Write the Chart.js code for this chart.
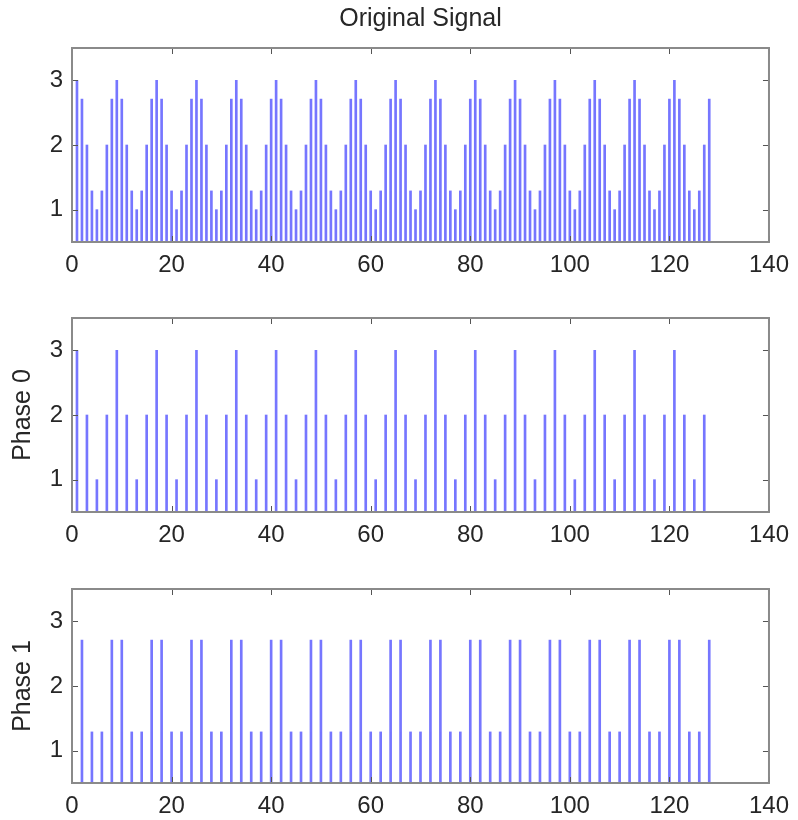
<!DOCTYPE html>
<html>
<head>
<meta charset="utf-8">
<script src="https://cdn.jsdelivr.net/npm/chart.js@4/dist/chart.umd.min.js"></script>
<style>
    body { margin: 0; background: #fff; }
    #wrap { position: relative; width: 798px; height: 820px; }
    #wrap canvas { position: absolute; left: 0; }
</style>
</head>
<body>
<div id="wrap">
    <canvas id="c0" width="798" height="290" style="top:0px"></canvas>
    <canvas id="c1" width="798" height="270" style="top:290px"></canvas>
    <canvas id="c2" width="798" height="260" style="top:560px"></canvas>
</div>
<script>
// Values (samples 1..128, stem plots)
const originalSignal = [
    3, 2.71, 2, 1.29, 1, 1.29, 2, 2.71,   3, 2.71, 2, 1.29, 1, 1.29, 2, 2.71,
    3, 2.71, 2, 1.29, 1, 1.29, 2, 2.71,   3, 2.71, 2, 1.29, 1, 1.29, 2, 2.71,
    3, 2.71, 2, 1.29, 1, 1.29, 2, 2.71,   3, 2.71, 2, 1.29, 1, 1.29, 2, 2.71,
    3, 2.71, 2, 1.29, 1, 1.29, 2, 2.71,   3, 2.71, 2, 1.29, 1, 1.29, 2, 2.71,
    3, 2.71, 2, 1.29, 1, 1.29, 2, 2.71,   3, 2.71, 2, 1.29, 1, 1.29, 2, 2.71,
    3, 2.71, 2, 1.29, 1, 1.29, 2, 2.71,   3, 2.71, 2, 1.29, 1, 1.29, 2, 2.71,
    3, 2.71, 2, 1.29, 1, 1.29, 2, 2.71,   3, 2.71, 2, 1.29, 1, 1.29, 2, 2.71,
    3, 2.71, 2, 1.29, 1, 1.29, 2, 2.71,   3, 2.71, 2, 1.29, 1, 1.29, 2, 2.71
];

// Phase 0 sits on the odd samples 1, 3, ..., 127
const phase0 = [
    3, 2, 1, 2,  3, 2, 1, 2,  3, 2, 1, 2,  3, 2, 1, 2,
    3, 2, 1, 2,  3, 2, 1, 2,  3, 2, 1, 2,  3, 2, 1, 2,
    3, 2, 1, 2,  3, 2, 1, 2,  3, 2, 1, 2,  3, 2, 1, 2,
    3, 2, 1, 2,  3, 2, 1, 2,  3, 2, 1, 2,  3, 2, 1, 2
];

// Phase 1 sits on the even samples 2, 4, ..., 128
const phase1 = [
    2.71, 1.29, 1.29, 2.71,  2.71, 1.29, 1.29, 2.71,  2.71, 1.29, 1.29, 2.71,  2.71, 1.29, 1.29, 2.71,
    2.71, 1.29, 1.29, 2.71,  2.71, 1.29, 1.29, 2.71,  2.71, 1.29, 1.29, 2.71,  2.71, 1.29, 1.29, 2.71,
    2.71, 1.29, 1.29, 2.71,  2.71, 1.29, 1.29, 2.71,  2.71, 1.29, 1.29, 2.71,  2.71, 1.29, 1.29, 2.71,
    2.71, 1.29, 1.29, 2.71,  2.71, 1.29, 1.29, 2.71,  2.71, 1.29, 1.29, 2.71,  2.71, 1.29, 1.29, 2.71
];

const xTicks = [0, 20, 40, 60, 80, 100, 120, 140];
const yTicks = [1, 2, 3];
const xRange = [0, 140];
const yRange = [0.5, 3.5];

const FONT = '"Liberation Sans", Arial, Helvetica, sans-serif';
const TEXT_COLOR = '#262626';
const STEM_COLOR = '#7676ff';
const FRAME_COLOR = '#8a8a8a';

// sample number -> point
function toPoints(values, first, step) {
    return values.map((v, i) => ({ x: first + i * step, y: v }));
}

// Box round the plot with MATLAB style inward ticks on all four sides
const boxPlugin = {
    id: 'matlabBox',
    afterDraw(chart) {
        const { ctx, chartArea: a, scales } = chart;
        ctx.save();
        ctx.strokeStyle = '#555';
        ctx.lineWidth = 1;
        ctx.beginPath();
        xTicks.forEach(t => {
            const px = Math.round(scales.x.getPixelForValue(t)) + 0.5;
            ctx.moveTo(px, a.bottom); ctx.lineTo(px, a.bottom - 6);
            ctx.moveTo(px, a.top); ctx.lineTo(px, a.top + 6);
        });
        yTicks.forEach(t => {
            const py = Math.round(scales.y.getPixelForValue(t)) + 0.5;
            ctx.moveTo(a.left, py); ctx.lineTo(a.left + 6, py);
            ctx.moveTo(a.right, py); ctx.lineTo(a.right - 6, py);
        });
        ctx.stroke();
        ctx.strokeStyle = FRAME_COLOR;
        ctx.lineWidth = 2;
        ctx.strokeRect(a.left, a.top, a.right - a.left, a.bottom - a.top);
        ctx.restore();
    }
};

function makeStemChart(canvasId, points, opts) {
    const canvas = document.getElementById(canvasId);
    const axisHeight = canvas.height - opts.areaBottom;

    return new Chart(canvas, {
        type: 'bar',
        data: {
            datasets: [{
                data: points,
                backgroundColor: STEM_COLOR,
                borderWidth: 0,
                barThickness: 2
            }]
        },
        options: {
            responsive: false,
            animation: false,
            layout: { padding: { top: opts.padTop, right: 27, left: 0, bottom: 0 } },
            plugins: {
                legend: { display: false },
                tooltip: { enabled: false },
                title: {
                    display: !!opts.title,
                    text: opts.title || '',
                    fullSize: false,
                    color: TEXT_COLOR,
                    font: { family: FONT, size: 25, weight: 'normal', lineHeight: 1.2 },
                    padding: { top: 4, bottom: 14 }
                }
            },
            scales: {
                x: {
                    type: 'linear',
                    min: xRange[0],
                    max: xRange[1],
                    offset: false,
                    grid: { display: false, drawTicks: false },
                    border: { display: false },
                    afterBuildTicks: s => { s.ticks = xTicks.map(v => ({ value: v })); },
                    afterFit: s => { s.height = axisHeight; },
                    ticks: {
                        color: TEXT_COLOR,
                        padding: 9,
                        maxRotation: 0,
                        autoSkip: false,
                        font: { family: FONT, size: 24, lineHeight: 1.2 }
                    }
                },
                y: {
                    min: yRange[0],
                    max: yRange[1],
                    grid: { display: false, drawTicks: false },
                    border: { display: false },
                    afterBuildTicks: s => { s.ticks = yTicks.map(v => ({ value: v })); },
                    afterFit: s => { s.width = 72; },
                    ticks: {
                        color: TEXT_COLOR,
                        padding: 9,
                        font: { family: FONT, size: 24, lineHeight: 1.2 }
                    },
                    title: {
                        display: !!opts.yLabel,
                        text: opts.yLabel || '',
                        color: TEXT_COLOR,
                        padding: { top: 8, bottom: 0 },
                        font: { family: FONT, size: 25, lineHeight: 1.2 }
                    }
                }
            }
        },
        plugins: [boxPlugin]
    });
}

document.addEventListener('DOMContentLoaded', function() {
    makeStemChart('c0', toPoints(originalSignal, 1, 1), { title: 'Original Signal', padTop: 0, areaBottom: 242 });
    makeStemChart('c1', toPoints(phase0, 1, 2), { yLabel: 'Phase 0', padTop: 28, areaBottom: 222 });
    makeStemChart('c2', toPoints(phase1, 2, 2), { yLabel: 'Phase 1', padTop: 29, areaBottom: 223 });
});
</script>
</body>
</html>
